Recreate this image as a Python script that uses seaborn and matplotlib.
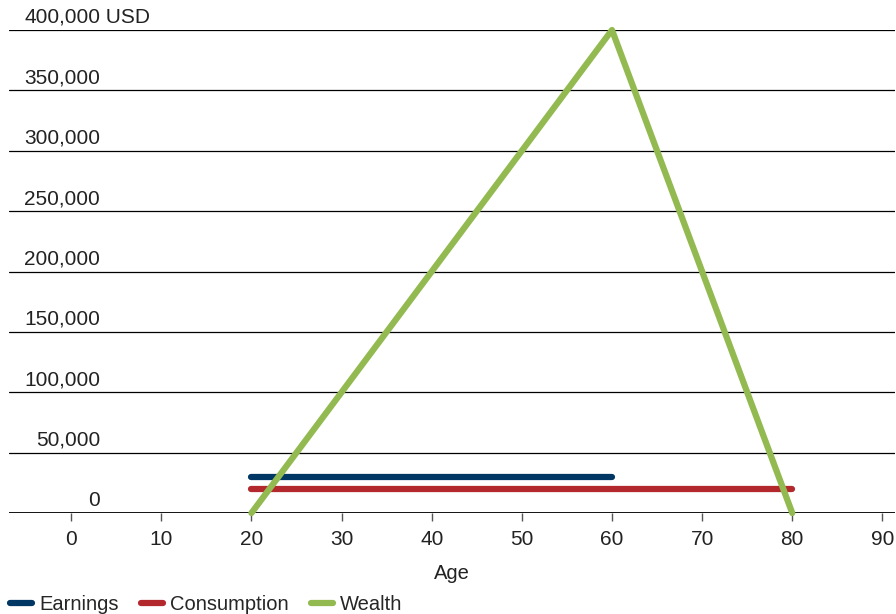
import pandas as pd
import numpy as np
import matplotlib.pyplot as plt
import seaborn as sns
from matplotlib.lines import Line2D
from matplotlib import transforms

# 数据
earn_age = [20, 60]
earn_val = [30000, 30000]
cons_age = [20, 80]
cons_val = [20000, 20000]
wealth_age = [20, 60, 80]
wealth_val = [0, 400000, 0]

series_names = ["Earnings", "Consumption", "Wealth"]
colors = ["#003764", "#B3282D", "#93BA51"]
x_ticks = [0, 10, 20, 30, 40, 50, 60, 70, 80, 90]
y_ticks = [0, 50000, 100000, 150000, 200000, 250000, 300000, 350000, 400000]

df = pd.concat([
    pd.DataFrame({"age": earn_age, "value": earn_val, "series": "Earnings"}),
    pd.DataFrame({"age": cons_age, "value": cons_val, "series": "Consumption"}),
    pd.DataFrame({"age": wealth_age, "value": wealth_val, "series": "Wealth"}),
], ignore_index=True)

sns.set_style("white")
plt.rcParams['font.family'] = ['Liberation Sans', 'DejaVu Sans']

FS = 15
TXT = "#222222"

fig = plt.figure(figsize=(8.96, 6.14), dpi=100)
ax = fig.add_axes([9 / 896, 1 - 513 / 614, 886 / 896, (513 - 30) / 614])

sns.lineplot(data=df, x="age", y="value", hue="series", hue_order=series_names,
             palette=colors, linewidth=4.5, solid_capstyle="round",
             legend=False, ax=ax, clip_on=False, zorder=3)

ax.set_xlim(-6.9, 91.4)
ax.set_ylim(0, 400000)
for s in ax.spines.values():
    s.set_visible(False)

# 横向网格线
for yv in y_ticks:
    ax.axhline(yv, color="black", lw=0.9 if yv else 1.3, zorder=1)

ax.set_yticks([])
ax.set_xticks(x_ticks)
ax.set_xticklabels([str(v) for v in x_ticks], fontsize=FS, color=TXT)
ax.tick_params(axis="x", length=6, width=1, color="#555555", pad=6, bottom=True)
ax.set_xlabel("Age", fontsize=FS - 0.5, color=TXT, labelpad=11)
ax.set_ylabel("")

# y 轴标签放在网格线上方
trans = transforms.blended_transform_factory(fig.transFigure, ax.transData)
for yv in y_ticks:
    ax.text(100 / 896, yv + 2500, f"{yv:,}", transform=trans, ha="right", va="bottom",
            fontsize=FS, color=TXT)
ax.text(100 / 896, 400000 + 2500, " USD", transform=trans, ha="left", va="bottom",
        fontsize=FS, color=TXT)

handles = [Line2D([0], [0], color=c, lw=4.5, solid_capstyle="round") for c in colors]
fig.legend(handles, series_names, loc="lower left", bbox_to_anchor=(-0.002, -0.02),
           ncol=3, frameon=False, fontsize=FS - 0.5, handlelength=1.1, handletextpad=0.35,
           columnspacing=1.1, borderaxespad=0.2)

fig.savefig("out.png", dpi=100)
